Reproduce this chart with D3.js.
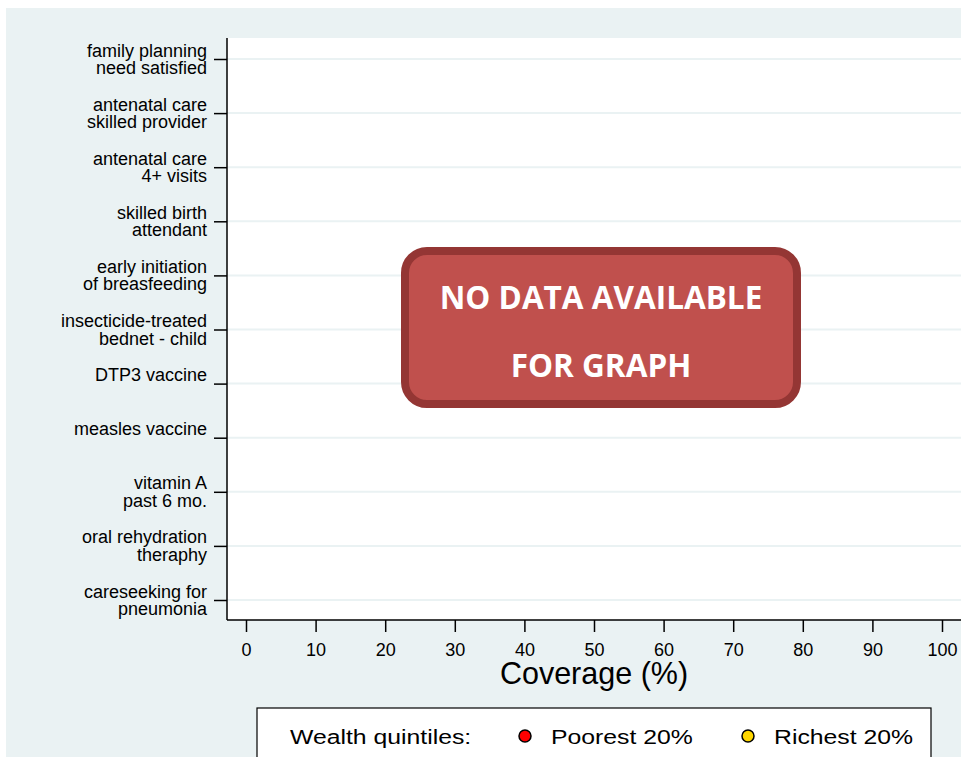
<!DOCTYPE html>
<html>
<head>
<meta charset="utf-8">
<script src="https://cdn.jsdelivr.net/npm/d3@7"></script>
<style>
  body { margin: 0; background: #fff; }
</style>
</head>
<body>
<div class="chart"></div>
<script>
// Chart data (no values available for this country)
var categories = [
  ["family planning", "need satisfied"],
  ["antenatal care", "skilled provider"],
  ["antenatal care", "4+ visits"],
  ["skilled birth", "attendant"],
  ["early initiation", "of breasfeeding"],
  ["insecticide-treated", "bednet - child"],
  ["DTP3 vaccine", ""],
  ["measles vaccine", ""],
  ["vitamin A", "past 6 mo."],
  ["oral rehydration", "theraphy"],
  ["careseeking for", "pneumonia"]
];
var poorest = [];
var richest = [];
var xTicks = [0, 10, 20, 30, 40, 50, 60, 70, 80, 90, 100];
var legendNames = ["Poorest 20%", "Richest 20%"];
var legendColors = ["#ff0000", "#ffd700"];

var svgWidth = 961, svgHeight = 757;
var bg = "#eaf2f3";
var font = "'Liberation Sans', Arial, sans-serif";

var svg = d3.select(".chart").append("svg")
  .attr("width", svgWidth)
  .attr("height", svgHeight)
  .style("font-family", font);

// outer background
svg.append("rect")
  .attr("x", 6).attr("y", 8)
  .attr("width", svgWidth - 6).attr("height", svgHeight - 8)
  .attr("fill", bg);

// plot region
var plot = {left: 227, right: 961, top: 38, bottom: 620};
svg.append("rect")
  .attr("x", plot.left).attr("y", plot.top)
  .attr("width", plot.right - plot.left).attr("height", plot.bottom - plot.top)
  .attr("fill", "#fff");

var xScale = d3.scaleLinear().domain([0, 100]).range([246, 942]);
var yScale = d3.scalePoint()
  .domain(d3.range(categories.length))
  .range([59, 600]);

// grid lines
svg.append("g").selectAll("line")
  .data(categories)
  .enter().append("line")
  .attr("x1", plot.left).attr("x2", plot.right)
  .attr("y1", function(d, i) { return yScale(i); })
  .attr("y2", function(d, i) { return yScale(i); })
  .attr("stroke", bg)
  .attr("stroke-width", 2);

// y axis
var yAxis = svg.append("g")
  .attr("transform", "translate(" + plot.left + ",0)")
  .call(d3.axisLeft(yScale).tickSize(13).tickFormat(""));
yAxis.select(".domain").attr("d", "M0," + plot.top + "V" + plot.bottom)
  .attr("stroke", "#000").attr("stroke-width", 1.5);
yAxis.selectAll(".tick line").attr("stroke", "#000").attr("stroke-width", 1.5);

var ylab = svg.append("g").selectAll("text")
  .data(categories)
  .enter().append("text")
  .attr("text-anchor", "end")
  .style("font-size", "18px")
  .attr("fill", "#000")
  .attr("x", 207)
  .attr("y", function(d, i) { return yScale(i); });
ylab.append("tspan")
  .attr("x", 207).attr("dy", -2.5)
  .text(function(d) { return d[0]; });
ylab.append("tspan")
  .attr("x", 207).attr("dy", 17.5)
  .text(function(d) { return d[1]; });

// x axis
var xAxis = svg.append("g")
  .attr("transform", "translate(0," + plot.bottom + ")")
  .call(d3.axisBottom(xScale).tickValues(xTicks).tickSize(12).tickPadding(11));
xAxis.select(".domain").attr("d", "M" + plot.left + ",0H" + plot.right)
  .attr("stroke", "#000").attr("stroke-width", 1.5);
xAxis.selectAll(".tick line").attr("stroke", "#000").attr("stroke-width", 1.5);
xAxis.selectAll(".tick text")
  .style("font-family", font)
  .style("font-size", "18px").attr("fill", "#000");

svg.append("text")
  .attr("x", 594).attr("y", 684)
  .attr("text-anchor", "middle")
  .style("font-size", "30.5px")
  .text("Coverage (%)");

// points (none available)
svg.append("g").selectAll("circle.poor")
  .data(poorest).enter().append("circle")
  .attr("cx", function(d) { return xScale(d.value); })
  .attr("cy", function(d) { return yScale(d.index); })
  .attr("r", 6).attr("fill", legendColors[0]).attr("stroke", "#000");
svg.append("g").selectAll("circle.rich")
  .data(richest).enter().append("circle")
  .attr("cx", function(d) { return xScale(d.value); })
  .attr("cy", function(d) { return yScale(d.index); })
  .attr("r", 6).attr("fill", legendColors[1]).attr("stroke", "#000");

// no data banner
svg.append("rect")
  .attr("x", 405).attr("y", 251)
  .attr("width", 392).attr("height", 153)
  .attr("rx", 22).attr("ry", 22)
  .attr("fill", "#c0504d")
  .attr("stroke", "#943634")
  .attr("stroke-width", 8);
[["NO DATA AVAILABLE", 309], ["FOR GRAPH", 377]].forEach(function(t) {
  svg.append("text")
    .attr("x", 601).attr("y", t[1])
    .attr("text-anchor", "middle")
    .style("font-family", "'Open Sans', sans-serif")
    .style("font-weight", "bold")
    .style("font-size", "31.5px")
    .attr("fill", "#fff")
    .text(t[0]);
});

// legend
svg.append("rect")
  .attr("x", 257).attr("y", 708)
  .attr("width", 674).attr("height", 60)
  .attr("fill", "#fff")
  .attr("stroke", "#000")
  .attr("stroke-width", 1.2);
function legendText(x, label) {
  svg.append("text")
    .attr("transform", "translate(" + x + ",744) scale(1.18,1)")
    .style("font-size", "21px")
    .text(label);
}
legendText(290, "Wealth quintiles:");
var legendX = [525, 748];
legendNames.forEach(function(name, i) {
  svg.append("circle")
    .attr("cx", legendX[i]).attr("cy", 736)
    .attr("r", 6)
    .attr("fill", legendColors[i])
    .attr("stroke", "#000")
    .attr("stroke-width", 1.5);
  legendText(legendX[i] + 26, name);
});
</script>
</body>
</html>
